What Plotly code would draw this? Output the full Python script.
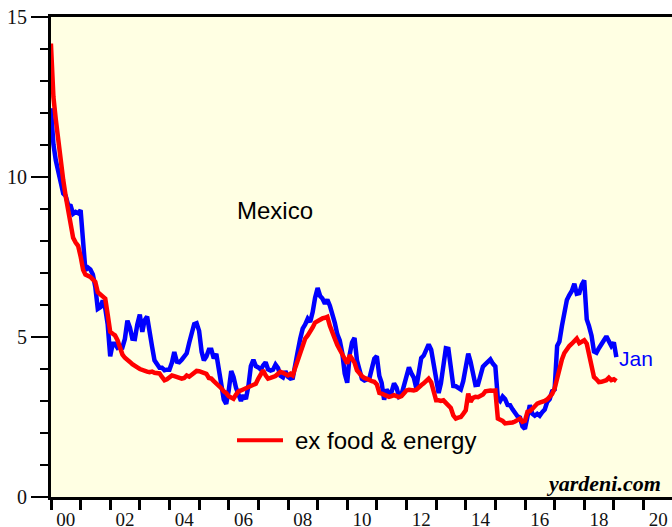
import pandas as pd
import plotly.graph_objects as go

# Monthly data, Dec 1999 .. Jan 2019 (values plotted at month end)
start_month = "1999-12-31"

headline = [12.15,
    11.02, 10.52, 10.11, 9.73, 9.48, 9.41, 9.12, 9.10, 8.85, 8.91, 8.87, 8.96,
    8.11, 7.09, 7.17, 7.11, 6.95, 6.57, 5.88, 5.93, 6.14, 5.89, 5.39, 4.40,
    4.79, 4.79, 4.66, 4.70, 4.68, 4.94, 5.51, 5.29, 4.95, 4.94, 5.39, 5.70,
    5.16, 5.52, 5.64, 5.25, 4.70, 4.27, 4.13, 4.04, 4.04, 3.96, 3.98, 3.98,
    4.20, 4.53, 4.23, 4.21, 4.29, 4.37, 4.49, 4.82, 5.06, 5.40, 5.43, 5.19,
    4.54, 4.27, 4.39, 4.60, 4.60, 4.33, 4.47, 3.95, 3.51, 3.05, 2.91, 3.33,
    3.94, 3.75, 3.41, 3.20, 3.00, 3.18, 3.06, 3.47, 4.09, 4.29, 4.09, 4.05,
    3.98, 4.11, 4.21, 3.99, 3.95, 3.98, 4.14, 4.03, 3.79, 3.74, 3.93, 3.76,
    3.70, 3.72, 4.25, 4.55, 4.95, 5.26, 5.39, 5.57, 5.47, 5.78, 6.23, 6.53,
    6.28, 6.20, 6.04, 6.17, 5.98, 5.74, 5.44, 5.08, 4.89, 4.50, 3.86, 3.57,
    4.46, 4.83, 4.97, 4.27, 3.92, 3.69, 3.64, 3.68, 3.70, 4.02, 4.32, 4.40,
    3.78, 3.57, 3.04, 3.36, 3.25, 3.28, 3.55, 3.42, 3.14, 3.20, 3.48, 3.82,
    4.05, 3.87, 3.73, 3.41, 3.85, 4.34, 4.42, 4.57, 4.77, 4.60, 4.18, 3.57,
    3.25, 3.55, 4.25, 4.65, 4.63, 4.09, 3.47, 3.46, 3.39, 3.36, 3.62, 3.97,
    4.48, 4.23, 3.76, 3.50, 3.51, 3.75, 4.07, 4.15, 4.22, 4.30, 4.17, 4.08,
    3.07, 3.00, 3.14, 3.06, 2.88, 2.87, 2.74, 2.59, 2.52, 2.48, 2.21, 2.13,
    2.61, 2.87, 2.60, 2.54, 2.60, 2.54, 2.65, 2.73, 2.97, 3.06, 3.31, 3.36,
    4.72, 4.86, 5.35, 5.82, 6.16, 6.31, 6.44, 6.66, 6.35, 6.37, 6.63, 6.77,
    5.55, 5.34, 5.04, 4.55, 4.51, 4.65, 4.81, 4.90, 5.02, 4.90, 4.72, 4.83,
    4.37]

core = [14.17,
    12.5, 11.8, 11.1, 10.5, 9.9, 9.4, 9.0, 8.6, 8.1, 7.95, 7.85, 7.52,
    7.1, 6.95, 6.92, 6.88, 6.8, 6.72, 6.4, 6.33, 6.28, 6.2, 5.7, 5.16,
    5.1, 5.05, 4.9, 4.65, 4.45, 4.35, 4.3, 4.22, 4.15, 4.08, 4.05, 4.0,
    3.96, 3.93, 3.92, 3.9, 3.92, 3.88, 3.86, 3.86, 3.75, 3.65, 3.68, 3.75,
    3.8, 3.78, 3.75, 3.72, 3.7, 3.72, 3.8, 3.76, 3.82, 3.9, 3.94, 3.93,
    3.91, 3.9, 3.85, 3.72, 3.7, 3.62, 3.55, 3.49, 3.4, 3.3, 3.25, 3.15,
    3.12, 3.07, 3.2, 3.3, 3.33, 3.37, 3.39, 3.42, 3.48, 3.52, 3.54, 3.7,
    3.85, 3.96, 3.8, 3.7, 3.72, 3.75, 3.78, 3.85, 3.91, 3.88, 3.82, 3.8,
    3.85, 3.8, 4.05, 4.3, 4.55, 4.75, 4.95, 5.05, 5.16, 5.3, 5.45, 5.5,
    5.55, 5.58, 5.6, 5.63, 5.35, 5.1, 4.95, 4.75, 4.6, 4.45, 4.3, 4.17,
    4.43, 4.3, 4.2, 3.96, 3.85, 3.78, 3.72, 3.7, 3.66, 3.62, 3.6, 3.52,
    3.25, 3.23, 3.2, 3.15, 3.13, 3.15, 3.18, 3.15, 3.12, 3.15, 3.25, 3.33,
    3.35, 3.33, 3.33, 3.35, 3.45, 3.49, 3.55, 3.65, 3.7, 3.59, 3.3, 3.02,
    3.02, 3.0, 3.02, 2.95, 2.85, 2.78, 2.55, 2.45, 2.48, 2.5, 2.6, 2.71,
    3.23, 2.97, 3.1, 3.13, 3.12, 3.17, 3.2, 3.3, 3.33, 3.33, 3.32, 3.33,
    2.45, 2.42, 2.38, 2.3, 2.3, 2.32, 2.33, 2.36, 2.42, 2.45, 2.35, 2.38,
    2.66, 2.68, 2.75, 2.85, 2.92, 2.95, 2.97, 3.0, 3.05, 3.15, 3.22, 3.39,
    3.75, 4.06, 4.3, 4.5, 4.64, 4.72, 4.79, 4.85, 4.95, 4.81, 4.85, 4.9,
    4.79, 4.45, 4.1, 3.75, 3.68, 3.59, 3.6, 3.63, 3.65, 3.73, 3.65, 3.68,
    3.62]

year_labels = ["00", "02", "04", "06", "08", "10", "12", "14", "16", "18", "20"]
label_years = [2000, 2002, 2004, 2006, 2008, 2010, 2012, 2014, 2016, 2018, 2020]

dates = pd.date_range(start_month, periods=len(headline), freq="ME")

fig = go.Figure()
fig.add_trace(go.Scatter(x=dates, y=headline, mode="lines",
                         line=dict(color="#0000FF", width=4.5), showlegend=False))
fig.add_trace(go.Scatter(x=dates, y=core, mode="lines",
                         line=dict(color="#FF0000", width=4.5), showlegend=False))

tickvals = [f"{y}-07-02" for y in label_years]
serif = "Liberation Serif, Times New Roman, serif"
sans = "Liberation Sans, Arial, sans-serif"

fig.update_layout(
    width=672, height=527,
    margin=dict(l=51, r=0, t=17, b=30, autoexpand=False),
    paper_bgcolor="white",
    plot_bgcolor="#FFFFE3",
    xaxis=dict(
        type="date", automargin=False,
        range=["2000-01-01", "2020-12-17"],
        tickmode="array", tickvals=tickvals, ticktext=year_labels,
        ticks="outside", ticklen=3, tickcolor="rgba(0,0,0,0)",
        minor=dict(tickmode="linear", tick0="2000-01-01", dtick="M12",
                   ticks="outside", ticklen=10, tickwidth=3, tickcolor="black"),
        showline=True, linecolor="black", linewidth=3, mirror=True,
        showgrid=False, zeroline=False,
        tickfont=dict(family=serif, size=19, color="#111"),
    ),
    yaxis=dict(
        range=[0, 15], automargin=False,
        tickmode="linear", tick0=0, dtick=5,
        ticks="outside", ticklen=17, tickwidth=2, tickcolor="black",
        minor=dict(tickmode="linear", tick0=0, dtick=1, ticks="outside",
                   ticklen=8, tickwidth=2, tickcolor="black"),
        showline=True, linecolor="black", linewidth=3, mirror=False,
        showgrid=False, zeroline=False,
        tickfont=dict(family=serif, size=20, color="#111"),
    ),
    annotations=[
        dict(x="2007-07-26", y=8.96, text="Mexico", showarrow=False,
             font=dict(family=sans, size=24, color="black")),
        dict(x="2019-02-10", y=4.33, text="Jan", showarrow=False, xanchor="left",
             font=dict(family=sans, size=21, color="#0000FF")),
        dict(xref="paper", yref="paper", x=(293 - 51) / 621, y=(496.7 - 440) / 480,
             text="ex food &amp; energy", showarrow=False,
             xanchor="left", yanchor="middle",
             font=dict(family=sans, size=24, color="black")),
        dict(xref="paper", yref="paper", x=(663 - 51) / 621, y=(496.7 - 483) / 480,
             text="<b><i>yardeni.com</i></b>", showarrow=False,
             xanchor="right", yanchor="middle",
             font=dict(family=serif, size=22, color="black")),
    ],
    shapes=[
        dict(type="line", xref="paper", yref="paper",
             x0=(237 - 51) / 621, x1=(283 - 51) / 621,
             y0=(496.7 - 440) / 480, y1=(496.7 - 440) / 480,
             line=dict(color="#FF0000", width=4)),
    ],
)

fig.write_html(
    "out.html",
    config={"displayModeBar": False},
    post_script="document.body.style.margin='0';document.body.style.overflow='hidden';",
)
